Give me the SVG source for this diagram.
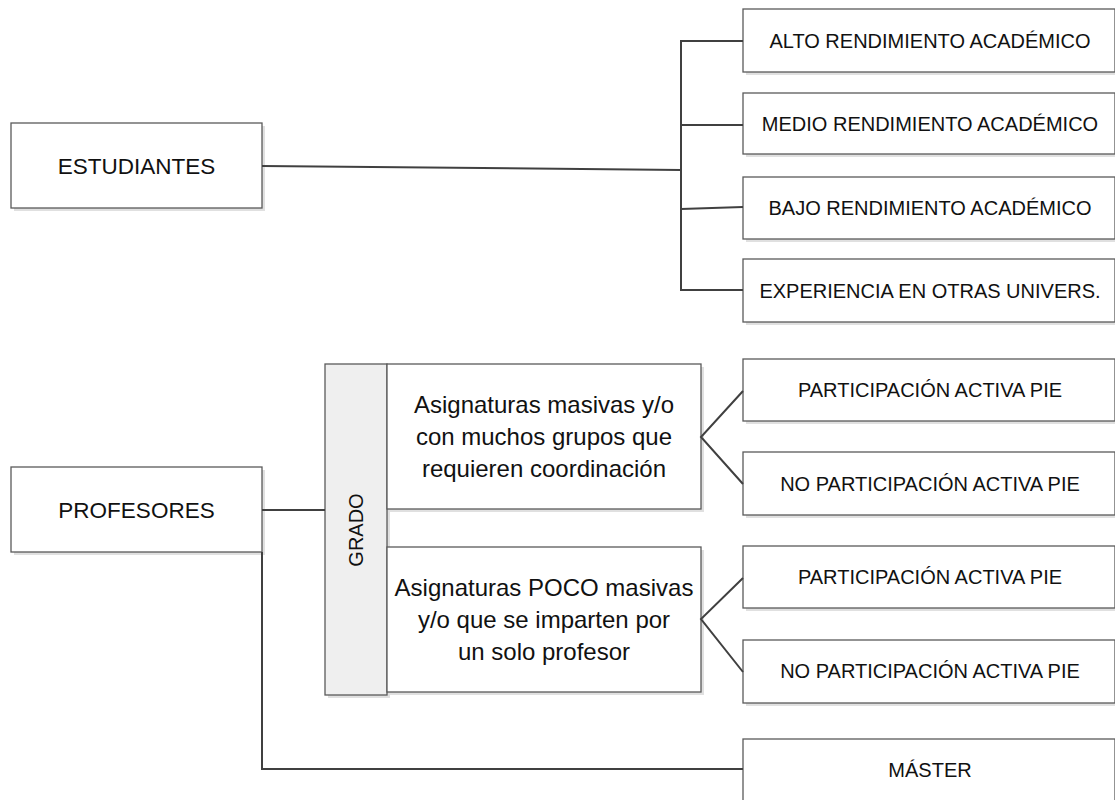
<svg xmlns="http://www.w3.org/2000/svg" width="1115" height="800" viewBox="0 0 1115 800">
<style>
.box{fill:#ffffff;stroke:#5a5a5a;stroke-width:1.3}
.grey{fill:#efefef;stroke:#5a5a5a;stroke-width:1.3}
.sh{fill:#e0e0e0;stroke:none}
.c{fill:none;stroke:#404040;stroke-width:2}
text{font-family:"Liberation Sans",Arial,sans-serif;fill:#111;text-anchor:middle}
.big{font-size:22.5px}
.mid{font-size:24px}
.sm{font-size:20px}
</style>
<rect width="1115" height="800" fill="#ffffff"/>
<g id="estudiantes">
<rect class="sh" x="14" y="126" width="251" height="85"/>
<rect class="box" x="11" y="123" width="251" height="85"/>
<text class="big" x="136.5" y="173.5">ESTUDIANTES</text>
</g>
<g id="alto">
<rect class="sh" x="746" y="12" width="372" height="63"/>
<rect class="box" x="743" y="9" width="372" height="63"/>
<text class="sm" x="930" y="48">ALTO RENDIMIENTO ACADÉMICO</text>
</g>
<g id="medio">
<rect class="sh" x="746" y="96" width="372" height="61"/>
<rect class="box" x="743" y="93" width="372" height="61"/>
<text class="sm" x="930" y="131">MEDIO RENDIMIENTO ACADÉMICO</text>
</g>
<g id="bajo">
<rect class="sh" x="746" y="180" width="372" height="62"/>
<rect class="box" x="743" y="177" width="372" height="62"/>
<text class="sm" x="930" y="215">BAJO RENDIMIENTO ACADÉMICO</text>
</g>
<g id="experiencia">
<rect class="sh" x="746" y="262" width="372" height="63"/>
<rect class="box" x="743" y="259" width="372" height="63"/>
<text class="sm" x="930" y="298">EXPERIENCIA EN OTRAS UNIVERS.</text>
</g>
<g id="profesores">
<rect class="sh" x="14" y="470" width="251" height="85"/>
<rect class="box" x="11" y="467" width="251" height="85"/>
<text class="big" x="136.5" y="517.5">PROFESORES</text>
</g>
<g id="grado">
<rect class="sh" x="328" y="367" width="62" height="331"/>
<rect class="grey" x="325" y="364" width="62" height="331"/>
<text class="sm" transform="translate(363,530) rotate(-90)">GRADO</text>
</g>
<g id="asig-masivas">
<rect class="sh" x="390" y="367" width="314" height="145"/>
<rect class="box" x="387" y="364" width="314" height="145"/>
<text class="mid" x="544" y="413">Asignaturas masivas y/o</text>
<text class="mid" x="544" y="445">con muchos grupos que</text>
<text class="mid" x="544" y="477">requieren coordinación</text>
</g>
<g id="asig-poco">
<rect class="sh" x="390" y="550" width="314" height="145"/>
<rect class="box" x="387" y="547" width="314" height="145"/>
<text class="mid" x="544" y="596">Asignaturas POCO masivas</text>
<text class="mid" x="544" y="628">y/o que se imparten por</text>
<text class="mid" x="544" y="660">un solo profesor</text>
</g>
<g id="pie1">
<rect class="sh" x="746" y="362" width="372" height="62"/>
<rect class="box" x="743" y="359" width="372" height="62"/>
<text class="sm" x="930" y="397">PARTICIPACIÓN ACTIVA PIE</text>
</g>
<g id="nopie1">
<rect class="sh" x="746" y="455" width="372" height="63"/>
<rect class="box" x="743" y="452" width="372" height="63"/>
<text class="sm" x="930" y="491">NO PARTICIPACIÓN ACTIVA PIE</text>
</g>
<g id="pie2">
<rect class="sh" x="746" y="549" width="372" height="62"/>
<rect class="box" x="743" y="546" width="372" height="62"/>
<text class="sm" x="930" y="584">PARTICIPACIÓN ACTIVA PIE</text>
</g>
<g id="nopie2">
<rect class="sh" x="746" y="643" width="372" height="63"/>
<rect class="box" x="743" y="640" width="372" height="63"/>
<text class="sm" x="930" y="678">NO PARTICIPACIÓN ACTIVA PIE</text>
</g>
<g id="master">
<rect class="sh" x="746" y="742" width="372" height="62"/>
<rect class="box" x="743" y="739" width="372" height="62"/>
<text class="sm" x="930" y="777">MÁSTER</text>
</g>
<g id="connectors">
<line class="c" x1="262" y1="166" x2="681" y2="170"/>
<polyline class="c" points="743,41 681,41 681,290 743,290"/>
<line class="c" x1="681" y1="125" x2="743" y2="125"/>
<line class="c" x1="681" y1="209" x2="743" y2="207"/>
<line class="c" x1="262" y1="510" x2="325" y2="510"/>
<polyline class="c" points="262,552 262,769 743,769"/>
<polyline class="c" points="743,391 701,437 743,484"/>
<polyline class="c" points="743,578 701,619 743,672"/>
</g>
</svg>
